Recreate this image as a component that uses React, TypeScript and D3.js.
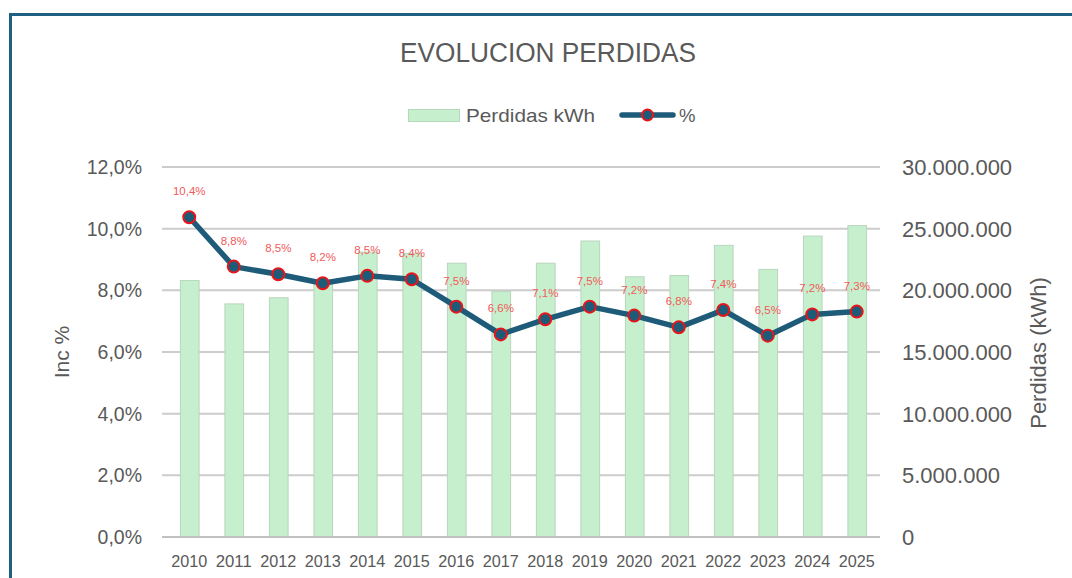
import React, { useEffect, useRef } from 'react'
import * as d3 from 'd3'

const years = ['2010', '2011', '2012', '2013', '2014', '2015', '2016', '2017',
  '2018', '2019', '2020', '2021', '2022', '2023', '2024', '2025']
// Perdidas kWh (right axis, bars)
const perdidasKwh = [20.8e6, 18.9e6, 19.4e6, 20.5e6, 23.1e6, 23.0e6, 22.2e6, 19.9e6,
  22.2e6, 24.0e6, 21.1e6, 21.2e6, 23.65e6, 21.7e6, 24.4e6, 25.25e6]
// Inc % (left axis, line)
const incPct = [10.37, 8.77, 8.52, 8.23, 8.47, 8.36, 7.47, 6.57,
  7.06, 7.47, 7.18, 6.8, 7.36, 6.53, 7.22, 7.31]
const pctTicks = [0, 2, 4, 6, 8, 10, 12]
const kwhTicks = [0, 5e6, 10e6, 15e6, 20e6, 25e6, 30e6]

const W = 1072
const H = 578
const plot = { left: 167, right: 879, top: 167, bottom: 537 }

const TEXT = '#595959'
const LINE = '#1d5b79'
const RED = '#e8161b'
const BAR = '#c6efce'

const esLocale = d3.formatLocale({ decimal: ',', thousands: '.', grouping: [3], currency: ['', '€'] })
const fmtPct = esLocale.format('.1f')
const fmtKwh = esLocale.format(',.0f')

export default function App() {
  const ref = useRef<SVGSVGElement>(null)

  useEffect(() => {
    drawChart()
  })

  function drawChart() {
    const svg = d3.select(ref.current)
    svg.selectAll('*').remove()

    const x = d3.scaleBand<string>()
      .domain(years)
      .range([plot.left, plot.right])
      .paddingInner(0.58)
      .paddingOuter(0.29)

    const yPct = d3.scaleLinear().domain([0, 12]).range([plot.bottom, plot.top])
    const yKwh = d3.scaleLinear().domain([0, 30e6]).range([plot.bottom, plot.top])
    const cx = (d: string) => (x(d) as number) + x.bandwidth() / 2

    svg.append('rect')
      .attr('width', W).attr('height', H).attr('fill', 'white')

    // frame (cut off on right and bottom)
    svg.append('path')
      .attr('d', `M10.5,${H + 5} L10.5,14.5 L${W + 5},14.5`)
      .attr('fill', 'none')
      .attr('stroke', '#1f5f82')
      .attr('stroke-width', 3)

    svg.append('text')
      .attr('x', 548).attr('y', 61.5)
      .attr('text-anchor', 'middle')
      .attr('textLength', 296)
      .attr('lengthAdjust', 'spacingAndGlyphs')
      .style('font-family', 'Liberation Sans, Arial, sans-serif')
      .style('font-size', '27px')
      .style('fill', TEXT)
      .text('EVOLUCION PERDIDAS')

    // legend
    const lg = svg.append('g')
    lg.append('rect')
      .attr('x', 408.5).attr('y', 109.5).attr('width', 51).attr('height', 12)
      .attr('fill', BAR).attr('stroke', '#b5d9bb')
    lg.append('text')
      .attr('x', 466).attr('y', 121.5)
      .attr('textLength', 129)
      .attr('lengthAdjust', 'spacingAndGlyphs')
      .style('font-family', 'Liberation Sans, Arial, sans-serif')
      .style('font-size', '18.5px')
      .style('fill', TEXT)
      .text('Perdidas kWh')
    lg.append('line')
      .attr('x1', 622).attr('x2', 673).attr('y1', 115).attr('y2', 115)
      .attr('stroke', LINE).attr('stroke-width', 5.5).attr('stroke-linecap', 'round')
    lg.append('circle')
      .attr('cx', 647.5).attr('cy', 115).attr('r', 5.5)
      .attr('fill', LINE).attr('stroke', RED).attr('stroke-width', 2)
    lg.append('text')
      .attr('x', 679).attr('y', 121.5)
      .style('font-family', 'Liberation Sans, Arial, sans-serif')
      .style('font-size', '18.5px')
      .style('fill', TEXT)
      .text('%')

    // gridlines
    svg.append('g')
      .selectAll('line')
      .data(pctTicks.slice(1))
      .enter()
      .append('line')
      .attr('x1', 162).attr('x2', 880)
      .attr('y1', d => yPct(d)).attr('y2', d => yPct(d))
      .attr('stroke', '#cccccc').attr('stroke-width', 2)

    // bars
    svg.append('g')
      .selectAll('rect')
      .data(years)
      .enter()
      .append('rect')
      .attr('x', d => (x(d) as number) + 0.5)
      .attr('y', (d, i) => yKwh(perdidasKwh[i]))
      .attr('width', x.bandwidth())
      .attr('height', (d, i) => plot.bottom - yKwh(perdidasKwh[i]))
      .attr('fill', BAR)
      .attr('stroke', '#b9d6bd')
      .attr('stroke-width', 1)

    // x axis line
    svg.append('line')
      .attr('x1', 162).attr('x2', 880)
      .attr('y1', plot.bottom).attr('y2', plot.bottom)
      .attr('stroke', '#c0c0c0').attr('stroke-width', 2)

    // left axis labels
    svg.append('g')
      .selectAll('text')
      .data(pctTicks)
      .enter()
      .append('text')
      .attr('x', 142).attr('y', d => yPct(d))
      .attr('dy', '0.36em')
      .attr('text-anchor', 'end')
      .style('font-family', 'Liberation Sans, Arial, sans-serif')
      .style('font-size', '19.5px')
      .style('fill', TEXT)
      .text(d => fmtPct(d) + '%')

    // right axis labels
    svg.append('g')
      .selectAll('text')
      .data(kwhTicks)
      .enter()
      .append('text')
      .attr('x', 902).attr('y', d => yKwh(d))
      .attr('dy', '0.36em')
      .style('font-family', 'Liberation Sans, Arial, sans-serif')
      .style('font-size', '22px')
      .style('fill', TEXT)
      .text(d => fmtKwh(d))

    // axis titles
    svg.append('text')
      .attr('transform', 'translate(69,352) rotate(-90)')
      .attr('text-anchor', 'middle')
      .style('font-family', 'Liberation Sans, Arial, sans-serif')
      .style('font-size', '21px')
      .style('fill', TEXT)
      .text('Inc %')
    svg.append('text')
      .attr('transform', 'translate(1046,353) rotate(-90)')
      .attr('text-anchor', 'middle')
      .style('font-family', 'Liberation Sans, Arial, sans-serif')
      .style('font-size', '22px')
      .style('fill', TEXT)
      .text('Perdidas (kWh)')

    // x labels
    svg.append('g')
      .selectAll('text')
      .data(years)
      .enter()
      .append('text')
      .attr('x', d => cx(d)).attr('y', 567)
      .attr('text-anchor', 'middle')
      .attr('textLength', 36)
      .attr('lengthAdjust', 'spacingAndGlyphs')
      .style('font-family', 'Liberation Sans, Arial, sans-serif')
      .style('font-size', '17px')
      .style('fill', TEXT)
      .text(d => d)

    // line
    const line = d3.line<number>()
      .x((d, i) => cx(years[i]))
      .y(d => yPct(d))
    svg.append('path')
      .datum(incPct)
      .attr('d', line)
      .attr('fill', 'none')
      .attr('stroke', LINE)
      .attr('stroke-width', 5.5)
      .attr('stroke-linejoin', 'round')

    svg.append('g')
      .selectAll('circle')
      .data(incPct)
      .enter()
      .append('circle')
      .attr('cx', (d, i) => cx(years[i]))
      .attr('cy', d => yPct(d))
      .attr('r', 6)
      .attr('fill', LINE)
      .attr('stroke', RED)
      .attr('stroke-width', 2)

    // data labels
    svg.append('g')
      .selectAll('text')
      .data(incPct)
      .enter()
      .append('text')
      .attr('x', (d, i) => cx(years[i]))
      .attr('y', d => yPct(d) - 22)
      .attr('text-anchor', 'middle')
      .style('font-family', 'Liberation Sans, Arial, sans-serif')
      .style('font-size', '11.5px')
      .style('fill', '#f25a5a')
      .text(d => fmtPct(d) + '%')
  }

  return (
    <svg ref={ref} width={W} height={H}
      style={{ position: 'absolute', left: 0, top: 0, display: 'block' }} />
  )
}
